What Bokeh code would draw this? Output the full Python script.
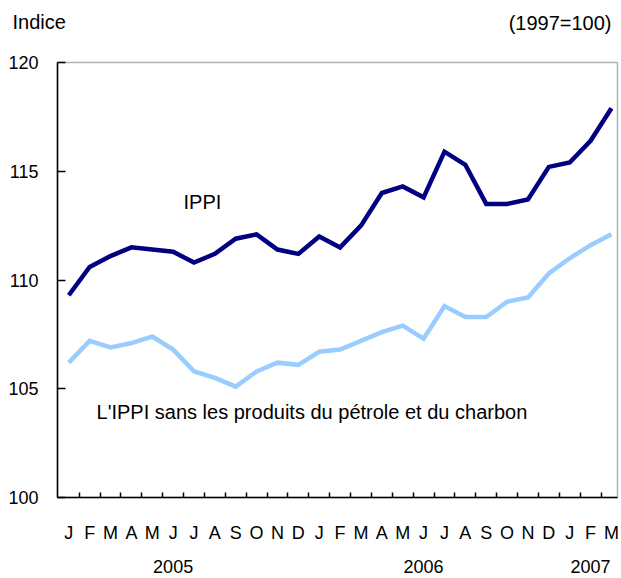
from bokeh.plotting import figure
from bokeh.models import FixedTicker, LinearAxis, Label, Range1d, BoxAnnotation
from bokeh.embed import file_html
from bokeh.resources import INLINE

# ---- data ----
months = ["J", "F", "M", "A", "M", "J", "J", "A", "S", "O", "N", "D",
          "J", "F", "M", "A", "M", "J", "J", "A", "S", "O", "N", "D",
          "J", "F", "M"]
ippi = [109.3, 110.6, 111.1, 111.5, 111.4, 111.3, 110.8, 111.2, 111.9, 112.1, 111.4, 111.2,
        112.0, 111.5, 112.5, 114.0, 114.3, 113.8, 115.9, 115.3, 113.5, 113.5, 113.7, 115.2,
        115.4, 116.4, 117.9]
ippi_sans = [106.2, 107.2, 106.9, 107.1, 107.4, 106.8, 105.8, 105.5, 105.1, 105.8, 106.2, 106.1,
             106.7, 106.8, 107.2, 107.6, 107.9, 107.3, 108.8, 108.3, 108.3, 109.0, 109.2, 110.3,
             111.0, 111.6, 112.1]
years = ["2005", "2006", "2007"]
year_pos = [5, 17, 25]
y_ticks = [100, 105, 110, 115, 120]
y_min, y_max = 100, 120

FONT = "Liberation Sans"
FS = "18px"
FS_LAB = "20px"

x = list(range(len(months)))
x_start, x_end = -0.54, 26.29

# canvas & plot-box geometry (pixels)
W, H = 621, 578
BOX_L, BOX_R, BOX_T, BOX_B = 57, 617, 62, 497
pxx = (BOX_R - BOX_L) / (x_end - x_start)
pyy = (BOX_B - BOX_T) / (y_max - y_min)
X0 = x_start - BOX_L / pxx
X1 = x_end + (W - BOX_R) / pxx
Y0 = y_min - (H - BOX_B) / pyy
Y1 = y_max + BOX_T / pyy

p = figure(width=W, height=H, output_backend="svg", toolbar_location=None,
           x_range=Range1d(X0, X1), y_range=Range1d(Y0, Y1),
           x_axis_type=None, y_axis_type=None,
           min_border_left=0, min_border_right=0, min_border_top=0, min_border_bottom=0)
p.title.visible = False
p.outline_line_color = None
p.background_fill_color = "white"
p.border_fill_color = "white"

# plot box
p.add_layout(BoxAnnotation(left=x_start, right=x_end, bottom=y_min, top=y_max,
                           fill_alpha=0, line_color="black", line_width=1.5, level="overlay"))

# y axis
yaxis = LinearAxis(ticker=FixedTicker(ticks=y_ticks), fixed_location=x_start,
                   bounds=(y_min, y_max),
                   major_tick_in=8, major_tick_out=0,
                   minor_tick_line_color=None,
                   major_label_standoff=19,
                   axis_line_color="black", axis_line_width=1.5,
                   major_tick_line_color="black", major_tick_line_width=1.5,
                   major_label_text_font=FONT, major_label_text_font_size=FS,
                   major_label_text_color="black")
p.add_layout(yaxis, "left")

# month axis
xaxis = LinearAxis(ticker=FixedTicker(ticks=x, minor_ticks=[i + 0.5 for i in range(len(months) - 1)]),
                   fixed_location=y_min, bounds=(x_start, x_end),
                   major_tick_line_color=None,
                   minor_tick_in=5, minor_tick_out=0,
                   minor_tick_line_color="black", minor_tick_line_width=1.5,
                   axis_line_color="black", axis_line_width=1.5,
                   major_label_overrides={i: m for i, m in enumerate(months)},
                   major_label_standoff=19,
                   major_label_text_font=FONT, major_label_text_font_size=FS,
                   major_label_text_color="black")
p.add_layout(xaxis, "below")

# year axis
yr_axis = LinearAxis(ticker=FixedTicker(ticks=year_pos), fixed_location=y_min,
                     bounds=(x_start, x_end),
                     major_tick_line_color=None, minor_tick_line_color=None,
                     axis_line_color=None,
                     major_label_overrides={pos: y for pos, y in zip(year_pos, years)},
                     major_label_standoff=56,
                     major_label_text_font=FONT, major_label_text_font_size=FS,
                     major_label_text_color="black")
p.add_layout(yr_axis, "below")

p.line(x, ippi_sans, line_color="#99ccff", line_width=4.5, line_join="miter")
p.line(x, ippi, line_color="#000080", line_width=4.5, line_join="miter")

def lab(xv, yv, text, align="left", xo=0, yo=0):
    p.add_layout(Label(x=xv, y=yv, x_offset=xo, y_offset=yo, text=text,
                       text_align=align, text_baseline="middle",
                       text_font=FONT, text_font_size=FS_LAB, text_color="black"))

lab(x_start, y_max, "Indice", "left", xo=-45, yo=41)
lab(x_end, y_max, "(1997=100)", "right", xo=-6, yo=40)
lab(5.5, 113.6, "IPPI")
lab(1.33, 103.93, "L'IPPI sans les produits du pétrole et du charbon")

open("out.html", "w").write(file_html(p, INLINE))
